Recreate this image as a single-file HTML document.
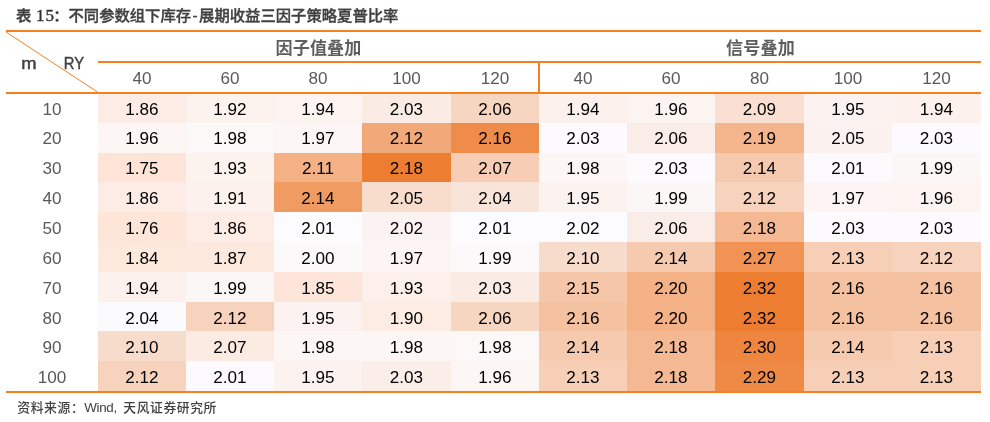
<!DOCTYPE html>
<html lang="zh-CN"><head><meta charset="utf-8"><title>表 15</title>
<style>
html,body{margin:0;padding:0;background:#fff;}
body{width:990px;height:422px;position:relative;overflow:hidden;font-family:"Liberation Sans","Noto Sans CJK SC",sans-serif;}
.abs{position:absolute;}
.title{left:15.9px;top:4px;height:24px;line-height:24px;font-size:15.33px;font-weight:500;color:#404040;-webkit-text-stroke:0.35px #404040;white-space:nowrap;font-family:"Liberation Sans","Noto Sans CJK SC",sans-serif;}
.title .num{font-family:"Liberation Serif",serif;font-weight:normal;font-size:17px;letter-spacing:1.2px;padding:0 0 0 4.7px;margin-right:-2.2px;color:#2e2e2e;-webkit-text-stroke:0.35px #2e2e2e;}
.title .hy{padding:0 1.45px;}
.foot{left:17.3px;top:397px;height:22px;line-height:22px;font-size:12.8px;letter-spacing:0.6px;font-weight:500;color:#404040;white-space:nowrap;}
.ln{background:#f6811c;}
.c{position:absolute;text-align:center;font-size:17.1px;color:#000;white-space:nowrap;box-sizing:border-box;padding-top:1.3px;overflow:hidden;}
.h{color:#595959;}
.lab{color:#404040;font-size:17px;-webkit-text-stroke:0.45px #404040;}
.g{font-weight:bold;font-size:17.1px;letter-spacing:0.1px;color:#5e5e5e;padding-top:1.6px;}
</style></head><body>

<div class="abs title"><span id="t1">表</span><span class="num" id="t2">15</span><span id="t3">：不同参数组下库存</span><span class="hy" id="t4">-</span><span id="t5">展期收益三因子策略夏普比率</span></div>
<div class="c h" style="left:6px;top:94px;width:92px;height:29px;line-height:29px">10</div>
<div class="c" style="left:98px;top:94px;width:88px;height:29px;line-height:29px;background:#fdece5">1.86</div>
<div class="c" style="left:186px;top:94px;width:88px;height:29px;line-height:29px;background:#fcf2ee">1.92</div>
<div class="c" style="left:274px;top:94px;width:88px;height:29px;line-height:29px;background:#fcf4f1">1.94</div>
<div class="c" style="left:362px;top:94px;width:89px;height:29px;line-height:29px;background:#faece5">2.03</div>
<div class="c" style="left:451px;top:94px;width:88px;height:29px;line-height:29px;background:#f7d6c1">2.06</div>
<div class="c" style="left:539px;top:94px;width:88px;height:29px;line-height:29px;background:#fcf1ed">1.94</div>
<div class="c" style="left:627px;top:94px;width:88px;height:29px;line-height:29px;background:#fcf4f1">1.96</div>
<div class="c" style="left:715px;top:94px;width:89px;height:29px;line-height:29px;background:#f9e0d2">2.09</div>
<div class="c" style="left:804px;top:94px;width:88px;height:29px;line-height:29px;background:#fcf2ef">1.95</div>
<div class="c" style="left:892px;top:94px;width:89px;height:29px;line-height:29px;background:#fcf1ed">1.94</div>
<div class="c h" style="left:6px;top:123px;width:92px;height:30px;line-height:30px">20</div>
<div class="c" style="left:98px;top:123px;width:88px;height:30px;line-height:30px;background:#fcf6f4">1.96</div>
<div class="c" style="left:186px;top:123px;width:88px;height:30px;line-height:30px;background:#fcf8f8">1.98</div>
<div class="c" style="left:274px;top:123px;width:88px;height:30px;line-height:30px;background:#fcf7f6">1.97</div>
<div class="c" style="left:362px;top:123px;width:89px;height:30px;line-height:30px;background:#f2a979">2.12</div>
<div class="c" style="left:451px;top:123px;width:88px;height:30px;line-height:30px;background:#ef8c49">2.16</div>
<div class="c" style="left:539px;top:123px;width:88px;height:30px;line-height:30px;background:#fcfafc">2.03</div>
<div class="c" style="left:627px;top:123px;width:88px;height:30px;line-height:30px;background:#faede7">2.06</div>
<div class="c" style="left:715px;top:123px;width:89px;height:30px;line-height:30px;background:#f4b58c">2.19</div>
<div class="c" style="left:804px;top:123px;width:88px;height:30px;line-height:30px;background:#fbf1ee">2.05</div>
<div class="c" style="left:892px;top:123px;width:89px;height:30px;line-height:30px;background:#fcfafc">2.03</div>
<div class="c h" style="left:6px;top:153px;width:92px;height:29px;line-height:29px">30</div>
<div class="c" style="left:98px;top:153px;width:88px;height:29px;line-height:29px;background:#fde4d7">1.75</div>
<div class="c" style="left:186px;top:153px;width:88px;height:29px;line-height:29px;background:#fcf3ef">1.93</div>
<div class="c" style="left:274px;top:153px;width:88px;height:29px;line-height:29px;background:#f3b185">2.11</div>
<div class="c" style="left:362px;top:153px;width:89px;height:29px;line-height:29px;background:#ed7d31">2.18</div>
<div class="c" style="left:451px;top:153px;width:88px;height:29px;line-height:29px;background:#f7ceb5">2.07</div>
<div class="c" style="left:539px;top:153px;width:88px;height:29px;line-height:29px;background:#fcf6f5">1.98</div>
<div class="c" style="left:627px;top:153px;width:88px;height:29px;line-height:29px;background:#fcfafc">2.03</div>
<div class="c" style="left:715px;top:153px;width:89px;height:29px;line-height:29px;background:#f6caaf">2.14</div>
<div class="c" style="left:804px;top:153px;width:88px;height:29px;line-height:29px;background:#fcfafc">2.01</div>
<div class="c" style="left:892px;top:153px;width:89px;height:29px;line-height:29px;background:#fcf7f7">1.99</div>
<div class="c h" style="left:6px;top:182px;width:92px;height:30px;line-height:32px">40</div>
<div class="c" style="left:98px;top:182px;width:88px;height:30px;line-height:32px;background:#fdece5">1.86</div>
<div class="c" style="left:186px;top:182px;width:88px;height:30px;line-height:32px;background:#fcf1ec">1.91</div>
<div class="c" style="left:274px;top:182px;width:88px;height:30px;line-height:32px;background:#f09b61">2.14</div>
<div class="c" style="left:362px;top:182px;width:89px;height:30px;line-height:32px;background:#f8ddcd">2.05</div>
<div class="c" style="left:451px;top:182px;width:88px;height:30px;line-height:32px;background:#f9e4d9">2.04</div>
<div class="c" style="left:539px;top:182px;width:88px;height:30px;line-height:32px;background:#fcf2ef">1.95</div>
<div class="c" style="left:627px;top:182px;width:88px;height:30px;line-height:32px;background:#fcf7f7">1.99</div>
<div class="c" style="left:715px;top:182px;width:89px;height:30px;line-height:32px;background:#f7d3bd">2.12</div>
<div class="c" style="left:804px;top:182px;width:88px;height:30px;line-height:32px;background:#fcf5f3">1.97</div>
<div class="c" style="left:892px;top:182px;width:89px;height:30px;line-height:32px;background:#fcf4f1">1.96</div>
<div class="c h" style="left:6px;top:212px;width:92px;height:30px;line-height:32px">50</div>
<div class="c" style="left:98px;top:212px;width:88px;height:30px;line-height:32px;background:#fde5d8">1.76</div>
<div class="c" style="left:186px;top:212px;width:88px;height:30px;line-height:32px;background:#fdece5">1.86</div>
<div class="c" style="left:274px;top:212px;width:88px;height:30px;line-height:32px;background:#fcfbfd">2.01</div>
<div class="c" style="left:362px;top:212px;width:89px;height:30px;line-height:32px;background:#fbf3f1">2.02</div>
<div class="c" style="left:451px;top:212px;width:88px;height:30px;line-height:32px;background:#fcfbfd">2.01</div>
<div class="c" style="left:539px;top:212px;width:88px;height:30px;line-height:32px;background:#fcfbfe">2.02</div>
<div class="c" style="left:627px;top:212px;width:88px;height:30px;line-height:32px;background:#faede7">2.06</div>
<div class="c" style="left:715px;top:212px;width:89px;height:30px;line-height:32px;background:#f4b993">2.18</div>
<div class="c" style="left:804px;top:212px;width:88px;height:30px;line-height:32px;background:#fcfafc">2.03</div>
<div class="c" style="left:892px;top:212px;width:89px;height:30px;line-height:32px;background:#fcfafc">2.03</div>
<div class="c h" style="left:6px;top:242px;width:92px;height:30px;line-height:32px">60</div>
<div class="c" style="left:98px;top:242px;width:88px;height:30px;line-height:32px;background:#fde8dc">1.84</div>
<div class="c" style="left:186px;top:242px;width:88px;height:30px;line-height:32px;background:#fde8dd">1.87</div>
<div class="c" style="left:274px;top:242px;width:88px;height:30px;line-height:32px;background:#fcf9fa">2.00</div>
<div class="c" style="left:362px;top:242px;width:89px;height:30px;line-height:32px;background:#fcf5f3">1.97</div>
<div class="c" style="left:451px;top:242px;width:88px;height:30px;line-height:32px;background:#fcf9fa">1.99</div>
<div class="c" style="left:539px;top:242px;width:88px;height:30px;line-height:32px;background:#f8dccb">2.10</div>
<div class="c" style="left:627px;top:242px;width:88px;height:30px;line-height:32px;background:#f6caaf">2.14</div>
<div class="c" style="left:715px;top:242px;width:89px;height:30px;line-height:32px;background:#f09354">2.27</div>
<div class="c" style="left:804px;top:242px;width:88px;height:30px;line-height:32px;background:#f7cfb6">2.13</div>
<div class="c" style="left:892px;top:242px;width:89px;height:30px;line-height:32px;background:#f7d3bd">2.12</div>
<div class="c h" style="left:6px;top:272px;width:92px;height:30px;line-height:32px">70</div>
<div class="c" style="left:98px;top:272px;width:88px;height:30px;line-height:32px;background:#fcf1ed">1.94</div>
<div class="c" style="left:186px;top:272px;width:88px;height:30px;line-height:32px;background:#fcf7f7">1.99</div>
<div class="c" style="left:274px;top:272px;width:88px;height:30px;line-height:32px;background:#fde5d9">1.85</div>
<div class="c" style="left:362px;top:272px;width:89px;height:30px;line-height:32px;background:#fdf0ea">1.93</div>
<div class="c" style="left:451px;top:272px;width:88px;height:30px;line-height:32px;background:#faece5">2.03</div>
<div class="c" style="left:539px;top:272px;width:88px;height:30px;line-height:32px;background:#f6c6a8">2.15</div>
<div class="c" style="left:627px;top:272px;width:88px;height:30px;line-height:32px;background:#f3b185">2.20</div>
<div class="c" style="left:715px;top:272px;width:89px;height:30px;line-height:32px;background:#ed7d31">2.32</div>
<div class="c" style="left:804px;top:272px;width:88px;height:30px;line-height:32px;background:#f5c2a1">2.16</div>
<div class="c" style="left:892px;top:272px;width:89px;height:30px;line-height:32px;background:#f5c2a1">2.16</div>
<div class="c h" style="left:6px;top:302px;width:92px;height:29px;line-height:31px">80</div>
<div class="c" style="left:98px;top:302px;width:88px;height:29px;line-height:31px;background:#fbfafc">2.04</div>
<div class="c" style="left:186px;top:302px;width:88px;height:29px;line-height:31px;background:#f7d3bd">2.12</div>
<div class="c" style="left:274px;top:302px;width:88px;height:29px;line-height:31px;background:#fcf2ef">1.95</div>
<div class="c" style="left:362px;top:302px;width:89px;height:29px;line-height:31px;background:#fdece4">1.90</div>
<div class="c" style="left:451px;top:302px;width:88px;height:29px;line-height:31px;background:#f7d6c1">2.06</div>
<div class="c" style="left:539px;top:302px;width:88px;height:29px;line-height:31px;background:#f5c2a1">2.16</div>
<div class="c" style="left:627px;top:302px;width:88px;height:29px;line-height:31px;background:#f3b185">2.20</div>
<div class="c" style="left:715px;top:302px;width:89px;height:29px;line-height:31px;background:#ed7d31">2.32</div>
<div class="c" style="left:804px;top:302px;width:88px;height:29px;line-height:31px;background:#f5c2a1">2.16</div>
<div class="c" style="left:892px;top:302px;width:89px;height:29px;line-height:31px;background:#f5c2a1">2.16</div>
<div class="c h" style="left:6px;top:331px;width:92px;height:30px;line-height:32px">90</div>
<div class="c" style="left:98px;top:331px;width:88px;height:30px;line-height:32px;background:#f8dccb">2.10</div>
<div class="c" style="left:186px;top:331px;width:88px;height:30px;line-height:32px;background:#fbebe3">2.07</div>
<div class="c" style="left:274px;top:331px;width:88px;height:30px;line-height:32px;background:#fcf6f5">1.98</div>
<div class="c" style="left:362px;top:331px;width:89px;height:30px;line-height:32px;background:#fcf6f5">1.98</div>
<div class="c" style="left:451px;top:331px;width:88px;height:30px;line-height:32px;background:#fcf8f8">1.98</div>
<div class="c" style="left:539px;top:331px;width:88px;height:30px;line-height:32px;background:#f6caaf">2.14</div>
<div class="c" style="left:627px;top:331px;width:88px;height:30px;line-height:32px;background:#f4b993">2.18</div>
<div class="c" style="left:715px;top:331px;width:89px;height:30px;line-height:32px;background:#ee863f">2.30</div>
<div class="c" style="left:804px;top:331px;width:88px;height:30px;line-height:32px;background:#f6caaf">2.14</div>
<div class="c" style="left:892px;top:331px;width:89px;height:30px;line-height:32px;background:#f7cfb6">2.13</div>
<div class="c h" style="left:6px;top:361px;width:92px;height:30px;line-height:32px">100</div>
<div class="c" style="left:98px;top:361px;width:88px;height:30px;line-height:32px;background:#f7d3bd">2.12</div>
<div class="c" style="left:186px;top:361px;width:88px;height:30px;line-height:32px;background:#fcfafc">2.01</div>
<div class="c" style="left:274px;top:361px;width:88px;height:30px;line-height:32px;background:#fcf2ef">1.95</div>
<div class="c" style="left:362px;top:361px;width:89px;height:30px;line-height:32px;background:#fbeee9">2.03</div>
<div class="c" style="left:451px;top:361px;width:88px;height:30px;line-height:32px;background:#fcf6f4">1.96</div>
<div class="c" style="left:539px;top:361px;width:88px;height:30px;line-height:32px;background:#f7cfb6">2.13</div>
<div class="c" style="left:627px;top:361px;width:88px;height:30px;line-height:32px;background:#f4b993">2.18</div>
<div class="c" style="left:715px;top:361px;width:89px;height:30px;line-height:32px;background:#ef8a46">2.29</div>
<div class="c" style="left:804px;top:361px;width:88px;height:30px;line-height:32px;background:#f7cfb6">2.13</div>
<div class="c" style="left:892px;top:361px;width:89px;height:30px;line-height:32px;background:#f7cfb6">2.13</div>
<div class="c h" style="left:98px;top:63px;width:88px;height:29px;line-height:29px">40</div>
<div class="c h" style="left:186px;top:63px;width:88px;height:29px;line-height:29px">60</div>
<div class="c h" style="left:274px;top:63px;width:88px;height:29px;line-height:29px">80</div>
<div class="c h" style="left:362px;top:63px;width:89px;height:29px;line-height:29px">100</div>
<div class="c h" style="left:451px;top:63px;width:88px;height:29px;line-height:29px">120</div>
<div class="c h" style="left:539px;top:63px;width:88px;height:29px;line-height:29px">40</div>
<div class="c h" style="left:627px;top:63px;width:88px;height:29px;line-height:29px">60</div>
<div class="c h" style="left:715px;top:63px;width:89px;height:29px;line-height:29px">80</div>
<div class="c h" style="left:804px;top:63px;width:88px;height:29px;line-height:29px">100</div>
<div class="c h" style="left:892px;top:63px;width:89px;height:29px;line-height:29px">120</div>
<div class="c g" style="left:98px;top:32px;width:441px;height:29px;line-height:29px">因子值叠加</div>
<div class="c g" style="left:540px;top:32px;width:441px;height:29px;line-height:29px">信号叠加</div>
<div class="c lab" style="left:14px;top:47.6px;width:30px;height:30px;line-height:30px;transform:scaleX(1.08)">m</div>
<div class="c lab" style="left:58.8px;top:47.6px;width:30px;height:30px;line-height:30px;transform:scaleX(0.87)">RY</div>
<div class="abs ln" style="left:6px;top:30px;width:975px;height:2px"></div>
<div class="abs ln" style="left:98px;top:61px;width:883px;height:2px"></div>
<div class="abs ln" style="left:6px;top:92px;width:975px;height:2px"></div>
<div class="abs ln" style="left:6px;top:391px;width:975px;height:2px"></div>
<div class="abs ln" style="left:538px;top:62px;width:2px;height:31px"></div>
<svg class="abs" style="left:0;top:0" width="990" height="422"><line x1="6" y1="32" x2="97.5" y2="92" stroke="#f6811c" stroke-width="1"/></svg>
<div class="abs foot"><span id="f1">资料来源：</span><span id="f2" style="letter-spacing:-0.35px;font-size:13.4px;margin-right:3.1px">Wind, </span><span id="f3">天风证券研究所</span></div>
</body></html>
